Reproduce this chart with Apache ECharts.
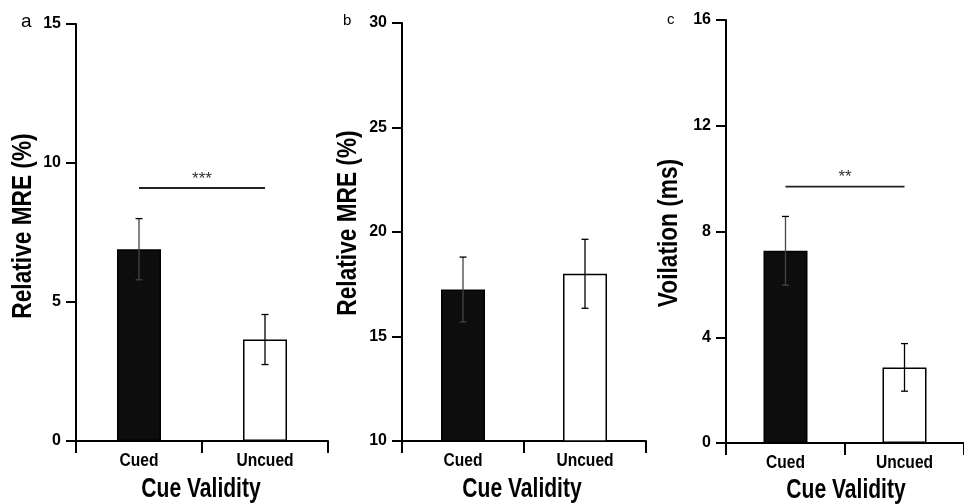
<!DOCTYPE html>
<html>
<head>
<meta charset="utf-8">
<script src="https://cdn.jsdelivr.net/npm/echarts@6/dist/echarts.min.js"></script>
<style>
html,body{margin:0;padding:0;background:#fff;}
#chart{width:964px;height:504px;}
</style>
</head>
<body>
<div id="chart"></div>
<script>
// ---- data ----
const categories = ['Cued', 'Uncued'];
const panelLetters = ['a', 'b', 'c'];
const yTitles = ['Relative MRE (%)', 'Relative MRE (%)', 'Voilation (ms)'];
const xTitle = 'Cue Validity';

const meanA = [6.9, 3.65];
const errA = [1.1, 0.9];
const meanB = [17.25, 18.0];
const errB = [1.55, 1.65];
const meanC = [7.27, 2.86];
const errC = [1.3, 0.9];

const yMin = [0, 10, 0];
const yMax = [15, 30, 16];
const yStep = [5, 5, 4];

// significance brackets
const sigPanels = [0, 2];
const sigLevels = [9.1, 9.7];
const sigLabels = ['***', '**'];

// ---- layout ----
const SANS = "'Liberation Sans',Arial,sans-serif";
const grids = [
  {left: 76, top: 24, width: 252, height: 417},
  {left: 402, top: 23, width: 244, height: 418},
  {left: 726, top: 20, width: 244, height: 423}
];
const yTitlePos = [[24, 226], [349, 223], [670, 233]];
const xTitlePos = [[201, 490], [522, 490], [846, 491]];
const letterPos = [[21, 31, 19], [343, 28, 15], [667, 27, 15]];
const means = [meanA, meanB, meanC];
const errs = [errA, errB, errC];

const graphics = [];
panelLetters.forEach((t, i) => {
  graphics.push({type: 'text', x: letterPos[i][0], y: letterPos[i][1],
    style: {text: t, font: letterPos[i][2] + 'px ' + SANS, fill: '#000', textVerticalAlign: 'bottom'}});
});
yTitles.forEach((t, i) => {
  graphics.push({type: 'text', x: yTitlePos[i][0], y: yTitlePos[i][1], rotation: Math.PI / 2, scaleX: 0.84,
    style: {text: t, font: 'bold 27px ' + SANS, fill: '#000', textAlign: 'center', textVerticalAlign: 'middle'}});
});
xTitlePos.forEach((p) => {
  graphics.push({type: 'text', x: p[0], y: p[1], scaleX: 0.78,
    style: {text: xTitle, font: 'bold 27px ' + SANS, fill: '#000', textAlign: 'center', textVerticalAlign: 'middle'}});
});

const option = {
  animation: false,
  backgroundColor: '#fff',
  grid: grids.map(g => Object.assign({containLabel: false}, g)),
  xAxis: grids.map((g, i) => ({
    type: 'category', gridIndex: i, data: categories,
    axisLine: {lineStyle: {color: '#000', width: 2}},
    axisTick: {show: true, length: 12, lineStyle: {color: '#000', width: 2}, alignWithLabel: false},
    axisLabel: {show: false},
    splitLine: {show: false}
  })),
  yAxis: grids.map((g, i) => ({
    type: 'value', gridIndex: i, min: yMin[i], max: yMax[i], interval: yStep[i],
    axisLine: {show: true, lineStyle: {color: '#000', width: 2}},
    axisTick: {show: true, length: 10, lineStyle: {color: '#000', width: 2}},
    axisLabel: {color: '#000', fontFamily: SANS, fontWeight: 'bold', fontSize: 16, margin: 15},
    splitLine: {show: false}
  })),
  graphic: graphics,
  series: []
};

grids.forEach((g, i) => {
  option.series.push({
    type: 'bar', xAxisIndex: i, yAxisIndex: i, barWidth: 44,
    data: means[i].map((v, k) => ({
      value: v,
      itemStyle: {color: k === 0 ? '#0d0d0d' : '#fff', borderColor: '#000', borderWidth: 1.5}
    })),
    z: 2
  });
  option.series.push({
    type: 'custom', xAxisIndex: i, yAxisIndex: i, z: 5,
    data: means[i].map((v, k) => [k, v - errs[i][k], v + errs[i][k]]),
    renderItem: function (params, api) {
      const x = api.value(0);
      const lo = api.coord([x, api.value(1)]);
      const hi = api.coord([x, api.value(2)]);
      const hw = 3.5;
      const st = {stroke: x === 0 ? '#444' : '#000', lineWidth: 1.3};
      const stTop = {stroke: '#000', lineWidth: 1.3};
      return {type: 'group', children: [
        {type: 'line', shape: {x1: lo[0], y1: lo[1], x2: hi[0], y2: hi[1]}, style: st},
        {type: 'line', shape: {x1: hi[0] - hw, y1: hi[1], x2: hi[0] + hw, y2: hi[1]}, style: stTop},
        {type: 'line', shape: {x1: lo[0] - hw, y1: lo[1], x2: lo[0] + hw, y2: lo[1]}, style: st}
      ]};
    }
  });
  // category labels (condensed bold)
  option.series.push({
    type: 'custom', xAxisIndex: i, yAxisIndex: i, z: 5, clip: false,
    data: categories.map((c, k) => [k]),
    renderItem: function (params, api) {
      const p = api.coord([api.value(0), yMin[i]]);
      return {type: 'text', x: p[0], y: p[1] + 20, scaleX: 0.82,
        style: {text: categories[params.dataIndex], font: 'bold 19px ' + SANS, fill: '#000',
          textAlign: 'center', textVerticalAlign: 'middle'}};
    }
  });
});

sigPanels.forEach((p, j) => {
  option.series.push({
    type: 'custom', xAxisIndex: p, yAxisIndex: p, z: 6,
    data: [[0, 1, sigLevels[j]]],
    renderItem: function (params, api) {
      const a = api.coord([api.value(0), api.value(2)]);
      const b = api.coord([api.value(1), api.value(2)]);
      return {type: 'group', children: [
        {type: 'line', shape: {x1: a[0], y1: a[1], x2: b[0], y2: b[1]}, style: {stroke: '#222', lineWidth: 1.8}},
        {type: 'text', x: (a[0] + b[0]) / 2, y: a[1] - 9,
         style: {text: sigLabels[j], fill: '#333', font: '17px ' + SANS, textAlign: 'center', textVerticalAlign: 'middle'}}
      ]};
    }
  });
});

const chart = echarts.init(document.getElementById('chart'), null, {renderer: 'canvas'});
chart.setOption(option);
</script>
</body>
</html>
